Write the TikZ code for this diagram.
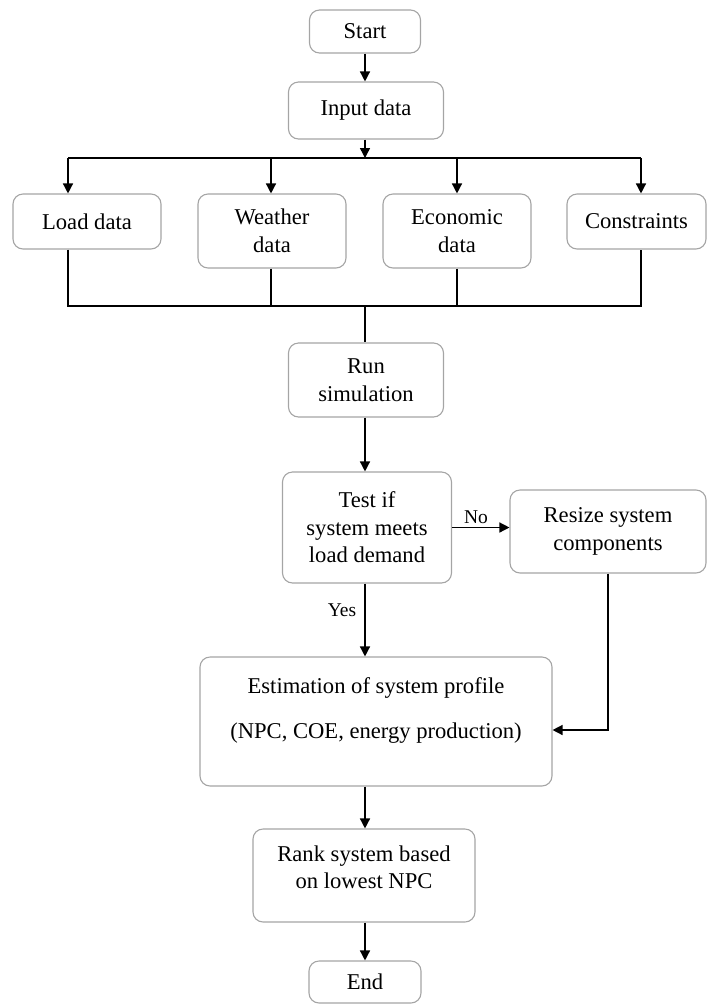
\documentclass[tikz,border=0pt]{standalone}
\usepackage{fontspec}
\setmainfont{Liberation Serif}
\usetikzlibrary{arrows.meta}
\definecolor{boxgray}{RGB}{165,165,165}
\begin{document}
\begin{tikzpicture}[x=1pt,y=-1pt,
 box/.style={draw=boxgray, line width=1.1pt, rounded corners=10pt, align=center, inner sep=0pt, font=\fontsize{22.6}{27.5}\selectfont},
 conn/.style={line width=1.4pt},
 arr/.style={conn, -{Triangle[length=10pt,width=10pt]}},
 lbl/.style={font=\fontsize{19.5}{23}\selectfont, inner sep=0pt}]
\useasboundingbox (0,0) rectangle (707,1005);

\node[box, minimum width=111pt, minimum height=43pt] (start) at (365,31.5) {Start};
\node[box, minimum width=155pt, minimum height=57pt] (input) at (366,110.5) {Input data};

\node[box, minimum width=148pt, minimum height=55pt] (load) at (87,221.5) {Load data};
\node[box, minimum width=148pt, minimum height=74pt] (weather) at (272,231) {Weather\\data};
\node[box, minimum width=148pt, minimum height=74pt] (econ) at (457,231) {Economic\\data};
\node[box, minimum width=139pt, minimum height=55pt] (constr) at (636.5,221.5) {Constraints};

\node[box, minimum width=155pt, minimum height=74pt] (run) at (366,380) {Run\\simulation};
\node[box, minimum width=169pt, minimum height=111pt] (test) at (367,527.5) {Test if\\system meets\\load demand};
\node[box, minimum width=196pt, minimum height=83pt] (resize) at (608,531.5) {Resize system\\components};
\node[box, minimum width=352pt, minimum height=129pt] (est) at (376,721.5) {Estimation of system profile\\[17.5pt](NPC, COE, energy production)\\\mbox{}};
\node[box, minimum width=222pt, minimum height=93pt] (rank) at (364,875.5) {Rank system based\\on lowest NPC\\[-11pt]\mbox{}};
\node[box, minimum width=112pt, minimum height=42pt] (end) at (365,982) {End};

% top part
\coordinate (bt) at (365,158);
\coordinate (bL) at (68,158);
\coordinate (bW) at (271,158);
\coordinate (bE) at (457,158);
\coordinate (bR) at (641,158);
\draw[arr] (start.south -| bt) -- (input.north -| bt);
\draw[arr] (input.south -| bt) -- (bt);
\draw[conn] (bL) -- (bR);
\draw[arr] (bL) -- (bL |- load.north);
\draw[arr] (bW) -- (bW |- weather.north);
\draw[arr] (bE) -- (bE |- econ.north);
\draw[arr] (bR) -- (bR |- constr.north);

% collecting bus
\coordinate (cL) at (68,306);
\coordinate (cW) at (271,306);
\coordinate (cE) at (457,306);
\coordinate (cR) at (641,306);
\coordinate (cm) at (365,306);
\draw[conn] (cL |- load.south) -- (cL) -- (cR) -- (cR |- constr.south);
\draw[conn] (cW |- weather.south) -- (cW);
\draw[conn] (cE |- econ.south) -- (cE);
\draw[conn] (cm) -- (cm |- run.north);

% lower part
\draw[arr] (cm |- run.south) -- (cm |- test.north);
\draw[arr] (test.east) -- (test.east -| resize.west);
\node[lbl] (no) at (476,517) {No};
\draw[arr] (cm |- test.south) -- (cm |- est.north);
\node[lbl] (yes) at (342,610) {Yes};
\coordinate (rt) at (608,730);
\draw[arr] (rt |- resize.south) -- (rt) -- (rt -| est.east);
\draw[arr] (cm |- est.south) -- (cm |- rank.north);
\draw[arr] (cm |- rank.south) -- (cm |- end.north);
\end{tikzpicture}
\end{document}
